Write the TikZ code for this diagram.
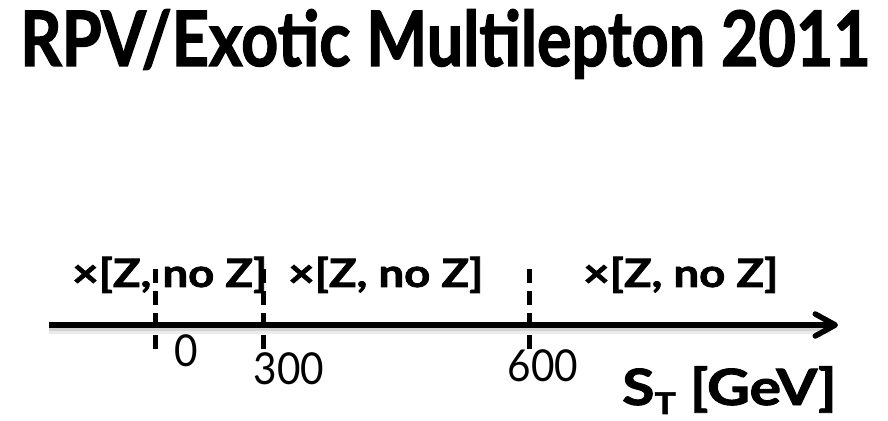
\documentclass[tikz,border=0pt]{standalone}
\usepackage{fontspec}
\setmainfont{Lato}
\newfontfamily\heavyfont{Lato}[BoldFeatures={FakeBold=1.8}]
\usetikzlibrary{arrows.meta}
\tikzset{
  axisline/.style={line width=5.5pt, line cap=butt},
  cutline/.style={line width=5pt, dash pattern=on 14pt off 8pt},
  shadowline/.style={line width=9pt, black, opacity=0.08},
  binlabel/.style={anchor=base west, inner sep=0pt, font=\fontsize{39pt}{39pt}\selectfont\heavyfont\bfseries},
  ticklabel/.style={anchor=base, inner sep=0pt, font=\fontsize{44pt}{44pt}\selectfont},
}
\begin{document}
\begin{tikzpicture}[x=1pt, y=1pt]
  \useasboundingbox (0,0) rectangle (888,420);

  % title
  \node[anchor=base west, inner sep=0pt, font=\fontsize{67pt}{67pt}\selectfont\heavyfont\bfseries]
    (title) at (20,354) {\scalebox{0.965}[1.14]{RPV/Exotic Multilepton 2011}};

  % axis end points and cut positions
  \coordinate (a0) at (49,95);
  \coordinate (a1) at (838,95);
  \coordinate (c1top) at (155,157);
  \coordinate (c1bot) at (155,71);
  \coordinate (c2top) at (263,157);
  \coordinate (c2bot) at (263,71);
  \coordinate (c3top) at (529,157);
  \coordinate (c3bot) at (529,71);

  % soft shadow under the axis
  \draw[shadowline] ([yshift=-5pt]a0) -- ([xshift=-8pt,yshift=-5pt]a1);
  \draw[shadowline, line width=5pt, opacity=0.10] ([yshift=-4pt]a0) -- ([xshift=-8pt,yshift=-4pt]a1);

  % bin labels
  \node[binlabel] (bin1) at (72,133) {\scalebox{1.17}[1]{×[Z, no Z]}};
  \node[binlabel] (bin2) at (288,133) {\scalebox{1.17}[1]{×[Z, no Z]}};
  \node[binlabel] (bin3) at (583,133) {\scalebox{1.17}[1]{×[Z, no Z]}};

  % S_T axis
  \draw[axisline, -{Straight Barb[length=20pt, width=22pt, line cap=round, line join=round]}] (a0) -- (a1);

  % cut lines
  \draw[cutline] (c1bot) -- (c1top);
  \draw[cutline] (c2bot) -- (c2top);
  \draw[cutline] (c3bot) -- (c3top);

  % tick labels
  \node[ticklabel] (t0) at (186,53) {\scalebox{0.92}[1]{0}};
  \node[ticklabel] (t300) at (289,35) {\scalebox{0.92}[1]{300}};
  \node[ticklabel] (t600) at (543,38) {\scalebox{0.92}[1]{600}};

  % axis title
  \node[anchor=base west, inner sep=0pt, font=\fontsize{50pt}{50pt}\selectfont\heavyfont\bfseries]
    (stlabel) at (622,15) {\scalebox{1.18}[1]{S{\fontsize{30pt}{30pt}\selectfont\raisebox{-9pt}{T}}\hspace{12pt}[GeV]}};
\end{tikzpicture}
\end{document}
